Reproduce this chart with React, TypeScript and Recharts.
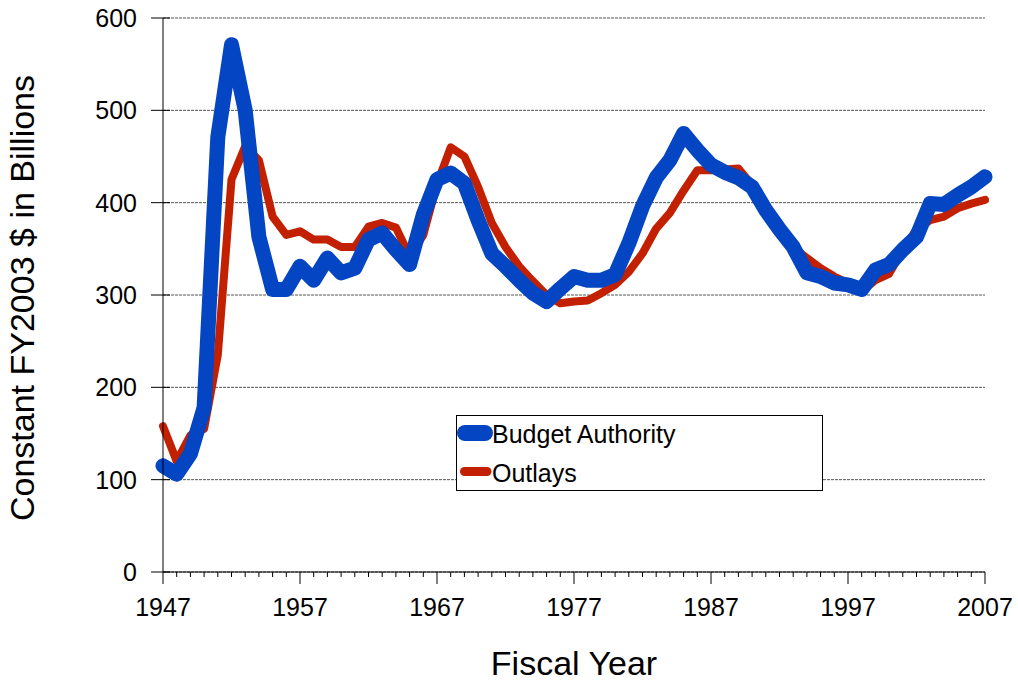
import React from 'react';
import { LineChart, Line, XAxis, YAxis, CartesianGrid, Legend } from 'recharts';

const years = [
  1947, 1948, 1949, 1950, 1951, 1952, 1953, 1954, 1955, 1956,
  1957, 1958, 1959, 1960, 1961, 1962, 1963, 1964, 1965, 1966,
  1967, 1968, 1969, 1970, 1971, 1972, 1973, 1974, 1975, 1976,
  1977, 1978, 1979, 1980, 1981, 1982, 1983, 1984, 1985, 1986,
  1987, 1988, 1989, 1990, 1991, 1992, 1993, 1994, 1995, 1996,
  1997, 1998, 1999, 2000, 2001, 2002, 2003, 2004, 2005, 2006,
  2007,
];

const budgetAuthority = [
  115, 106, 128, 178, 471, 571, 500, 363, 306, 306,
  331, 316, 340, 324, 329, 360, 367, 349, 333, 387,
  425, 432, 421, 381, 345, 331, 316, 302, 293, 307,
  320, 316, 316, 322, 356, 396, 427, 446, 475, 457,
  441, 433, 427, 417, 392, 371, 352, 324, 320, 313,
  311, 306, 327, 333, 349, 363, 399, 398, 408, 417,
  428,
];

const outlays = [
  158, 120, 148, 155, 235, 425, 461, 446, 385, 365,
  369, 360, 360, 352, 352, 374, 378, 373, 342, 365,
  420, 460, 450, 417, 378, 352, 331, 315, 300, 291,
  293, 294, 302, 311, 325, 345, 372, 389, 413, 435,
  435, 436, 437, 419, 395, 373, 352, 340, 329, 320,
  313, 304, 316, 323, 349, 371, 381, 385, 394, 399,
  403,
];

const yTicks = [0, 100, 200, 300, 400, 500, 600];
const xLabelYears = [1947, 1957, 1967, 1977, 1987, 1997, 2007];

const seriesNames = ['Budget Authority', 'Outlays'];
const BLUE = '#0345C2';
const RED = '#C22000';
const FONT = '"Liberation Sans", Arial, Helvetica, sans-serif';

const data = years.map((year, i) => ({
  year,
  ba: budgetAuthority[i],
  out: outlays[i],
}));

const XTick = (props: any) => {
  const { x, y, payload } = props;
  const major = xLabelYears.includes(payload.value);
  return (
    <g>
      <line x1={x} x2={x} y1={y} y2={y + (major ? 12 : 5)} stroke="#000" strokeWidth={1} />
      {major && (
        <text x={x} y={y + 44} textAnchor="middle" fontSize={25} fontFamily={FONT} fill="#000">
          {payload.value}
        </text>
      )}
    </g>
  );
};

const YTick = (props: any) => {
  const { x, y, payload } = props;
  return (
    <g>
      <line x1={x - 12} x2={x + 7} y1={y} y2={y} stroke="#000" strokeWidth={1} />
      <text x={x - 26} y={y + 9} textAnchor="end" fontSize={25} fontFamily={FONT} fill="#000">
        {payload.value}
      </text>
    </g>
  );
};

const YLabel = (props: any) => {
  const vb = props.viewBox || { x: 0, y: 18, width: 163, height: 554 };
  const cx = vb.x + 22;
  const cy = vb.y + vb.height / 2 + 3;
  return (
    <text
      x={cx}
      y={cy}
      transform={`rotate(-90, ${cx}, ${cy})`}
      textAnchor="middle"
      dominantBaseline="central"
      fontSize={34}
      fontFamily={FONT}
      fill="#000"
    >
      Constant FY2003 $ in Billions
    </text>
  );
};

const XLabel = (props: any) => {
  const vb = props.viewBox || { x: 163, y: 572, width: 822, height: 109 };
  return (
    <text
      x={vb.x + vb.width / 2}
      y={vb.y + 103}
      textAnchor="middle"
      fontSize={34}
      fontFamily={FONT}
      fill="#000"
    >
      Fiscal Year
    </text>
  );
};

const LegendBox = () => {
  const items = [
    { name: seriesNames[0], color: BLUE, width: 16, x1: 9, x2: 29, y: 18, ty: 28 },
    { name: seriesNames[1], color: RED, width: 9, x1: 8.5, x2: 31, y: 56.5, ty: 66.5 },
  ];
  return (
    <div
      style={{
        width: 367,
        height: 76,
        border: '1px solid #000',
        boxSizing: 'border-box',
        background: '#fff',
      }}
    >
      <svg width={367} height={76} style={{ display: 'block', overflow: 'visible', marginLeft: -1, marginTop: -1 }}>
        {items.map((it) => (
          <g key={it.name}>
            <line
              x1={it.x1}
              x2={it.x2}
              y1={it.y}
              y2={it.y}
              stroke={it.color}
              strokeWidth={it.width}
              strokeLinecap="round"
            />
            <text x={36} y={it.ty} fontSize={25} fontFamily={FONT} fill="#000">
              {it.name}
            </text>
          </g>
        ))}
      </svg>
    </div>
  );
};

export default function App() {
  return (
    <div style={{ position: 'absolute', left: 0, top: 0, width: 1018, height: 681, background: '#fff' }}>
      <LineChart
        width={1018}
        height={681}
        data={data}
        margin={{ top: 18, right: 33, left: 0, bottom: 0 }}
      >
        <CartesianGrid
          horizontal={true}
          vertical={false}
          stroke="#555"
          strokeDasharray="3 1"
          strokeWidth={1}
        />
        <XAxis
          dataKey="year"
          type="number"
          domain={[1947, 2007]}
          ticks={years}
          interval={0}
          height={109}
          tickSize={0}
          tickMargin={0}
          tickLine={false}
          axisLine={{ stroke: '#000', strokeWidth: 1 }}
          tick={<XTick />}
          label={<XLabel />}
        />
        <YAxis
          type="number"
          domain={[0, 600]}
          ticks={yTicks}
          interval={0}
          width={163}
          tickSize={0}
          tickMargin={0}
          tickLine={false}
          axisLine={{ stroke: '#000', strokeWidth: 1 }}
          tick={<YTick />}
          label={<YLabel />}
        />
        <Legend
          layout="horizontal"
          verticalAlign="middle"
          align="center"
          content={<LegendBox />}
          wrapperStyle={{ position: 'absolute', left: 456, top: 415, width: 367, height: 76 }}
        />
        <Line
          type="linear"
          dataKey="out"
          name={seriesNames[1]}
          stroke={RED}
          strokeWidth={8}
          strokeLinecap="round"
          strokeLinejoin="round"
          dot={false}
          activeDot={false}
          isAnimationActive={false}
        />
        <Line
          type="linear"
          dataKey="ba"
          name={seriesNames[0]}
          stroke={BLUE}
          strokeWidth={15}
          strokeLinecap="round"
          strokeLinejoin="round"
          dot={false}
          activeDot={false}
          isAnimationActive={false}
        />
      </LineChart>
    </div>
  );
}
